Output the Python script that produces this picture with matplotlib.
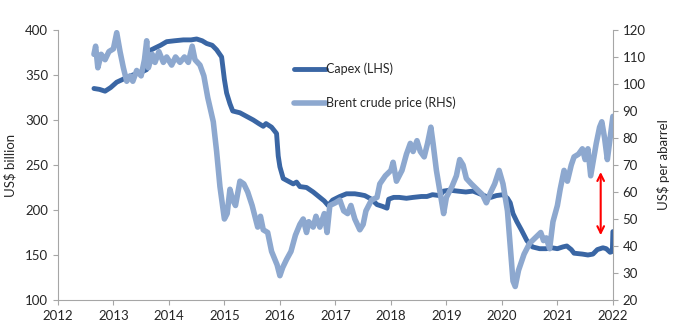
import matplotlib.pyplot as plt
import numpy as np

plt.rcParams['font.family'] = ['Lato', 'DejaVu Sans']

# Capex (LHS), US$ billion
capex_t = [2012.65, 2012.75, 2012.85, 2012.95, 2013.06, 2013.2, 2013.35, 2013.5, 2013.6,
           2013.62, 2013.75, 2013.85, 2013.96, 2014.1, 2014.26, 2014.4, 2014.5, 2014.6,
           2014.68, 2014.78, 2014.86, 2014.95, 2015.0, 2015.04, 2015.1, 2015.15, 2015.28,
           2015.4, 2015.52, 2015.62, 2015.7, 2015.75, 2015.85, 2015.94, 2015.97, 2016.0,
           2016.06, 2016.15, 2016.24, 2016.3, 2016.36, 2016.48, 2016.6, 2016.72, 2016.8,
           2016.87, 2016.95, 2017.08, 2017.2, 2017.35, 2017.45, 2017.53, 2017.65, 2017.75,
           2017.85, 2017.93, 2017.96, 2018.05, 2018.15, 2018.28, 2018.4, 2018.55, 2018.65,
           2018.75, 2018.88, 2018.95, 2019.06, 2019.2, 2019.35, 2019.48, 2019.6, 2019.72,
           2019.8, 2019.9, 2020.02, 2020.1, 2020.15, 2020.2, 2020.27, 2020.35, 2020.45,
           2020.55, 2020.68, 2020.8, 2020.9, 2021.0, 2021.1, 2021.17, 2021.25, 2021.3,
           2021.45, 2021.55, 2021.64, 2021.72, 2021.82, 2021.88, 2021.95, 2021.99, 2022.0]
capex_v = [335, 334, 332, 336, 342, 346, 350, 353, 356,
           376, 380, 383, 387, 388, 389, 389, 390, 388,
           385, 383, 378, 370, 345, 330, 318, 310, 308,
           304, 300, 296, 293, 296, 292, 285, 260, 248,
           235, 232, 229, 231, 226, 225, 220, 214, 210,
           205, 211, 215, 218, 218, 217, 216, 212, 206,
           204, 202, 212, 214, 214, 213, 214, 215, 215,
           217, 216, 221, 222, 221, 220, 221, 218, 215,
           214, 216, 217, 213, 208, 196, 187, 178, 166,
           159, 157, 157, 158, 157, 159, 160, 156, 152,
           151, 150, 151, 156, 158, 157, 153, 154, 176]

# Brent crude price (RHS), US$ per barrel
brent_t = [2012.65, 2012.68, 2012.72, 2012.78, 2012.85, 2012.92, 2013.0, 2013.06, 2013.12,
           2013.18, 2013.24, 2013.3, 2013.35, 2013.42, 2013.5, 2013.56, 2013.6, 2013.63,
           2013.7, 2013.75, 2013.82, 2013.9, 2013.96, 2014.05, 2014.12, 2014.2, 2014.28,
           2014.35, 2014.42, 2014.47, 2014.56, 2014.63, 2014.7, 2014.8, 2014.86, 2014.92,
           2015.0, 2015.05, 2015.1, 2015.15, 2015.2, 2015.28, 2015.35, 2015.42, 2015.5,
           2015.6, 2015.65, 2015.7, 2015.78, 2015.85, 2015.95, 2016.0, 2016.05, 2016.12,
           2016.2, 2016.28, 2016.36, 2016.42, 2016.48, 2016.52, 2016.6, 2016.65, 2016.72,
           2016.8, 2016.85, 2016.9, 2017.0, 2017.08, 2017.15, 2017.22, 2017.28, 2017.35,
           2017.44, 2017.5, 2017.55, 2017.65, 2017.75, 2017.8, 2017.9, 2018.0, 2018.04,
           2018.1, 2018.2, 2018.28, 2018.35, 2018.4, 2018.47, 2018.53, 2018.6, 2018.66,
           2018.72, 2018.76, 2018.82, 2018.9, 2018.95, 2019.0, 2019.1, 2019.18, 2019.24,
           2019.3, 2019.36, 2019.45, 2019.55, 2019.65, 2019.72, 2019.8, 2019.87, 2019.95,
           2020.02, 2020.1, 2020.15, 2020.2, 2020.24, 2020.3, 2020.4, 2020.5, 2020.6,
           2020.7, 2020.75, 2020.8, 2020.86, 2020.92, 2021.0, 2021.05, 2021.12, 2021.18,
           2021.25, 2021.3, 2021.38, 2021.45, 2021.5, 2021.55, 2021.6, 2021.65, 2021.7,
           2021.76, 2021.8, 2021.85, 2021.9, 2021.95, 2022.0]
brent_v = [111, 114, 106, 111, 109, 112, 113, 119, 112,
           106, 101, 103, 101, 105, 103, 109, 116, 106,
           111, 108, 112, 108, 110, 107, 110, 108, 110,
           108, 114, 109, 107, 103, 95, 86, 75, 62,
           50, 52, 61, 57, 55, 64, 63, 60, 55,
           47, 51, 46, 45, 38, 33, 29, 32, 35,
           38, 44, 48, 50, 45, 49, 47, 51, 47,
           52, 45, 55, 56, 57, 53, 52, 55, 50,
           46, 48, 53, 57, 58, 63, 66, 68, 71,
           64, 68, 74, 78, 75, 79, 75, 73, 78,
           84, 78, 68, 58, 52, 58, 62, 66, 72,
           70, 65, 63, 61, 59, 56, 60, 63, 68,
           63, 53, 40, 27, 25, 31, 37, 41, 43,
           45, 42, 43, 39, 49, 55, 61, 68, 64,
           70, 73, 74, 76, 72, 76, 66, 72, 78,
           84, 86, 80, 72, 80, 88]

years = list(range(2012, 2023))
gap_x = 2021.78
gap_lo, gap_hi = 44, 67.4

capex_color = '#3A66A4'
brent_color = '#8DA8CF'
spine_color = '#A6A6A6'
text_color = '#262626'

fig = plt.figure(figsize=(6.81, 3.35), dpi=100)
ax = fig.add_axes([0.085, 0.1045, 0.815, 0.806])
ax2 = ax.twinx()

l1, = ax.plot(capex_t, capex_v, color=capex_color, lw=3.5, solid_capstyle='round',
              solid_joinstyle='round', label='Capex (LHS)')
l2, = ax2.plot(brent_t, brent_v, color=brent_color, lw=4.0, solid_capstyle='round',
               solid_joinstyle='round', label='Brent crude price (RHS)')

ax.set_xlim(2012, 2022)
ax.set_ylim(100, 400)
ax2.set_ylim(20, 120)
ax.set_xticks(years)
ax.set_yticks(np.arange(100, 401, 50))
ax2.set_yticks(np.arange(20, 121, 10))

for a in (ax, ax2):
    a.spines['top'].set_visible(False)
    for s in ('left', 'right', 'bottom'):
        a.spines[s].set_color(spine_color)
    a.tick_params(colors=spine_color, labelcolor=text_color, labelsize=9.5, length=3.5,
                  direction='out')
ax.spines['right'].set_visible(False)
ax2.spines['left'].set_visible(False)
ax2.spines['bottom'].set_visible(False)

ax.set_ylabel('US$ billion', fontsize=9.5, color=text_color, labelpad=6)
ax2.set_ylabel('US$ per abarrel', fontsize=9.5, color=text_color, labelpad=8)

ax2.annotate('', xy=(gap_x, gap_hi), xytext=(gap_x, gap_lo),
             arrowprops=dict(arrowstyle='<->', color='red', lw=1.5,
                             mutation_scale=12, shrinkA=0, shrinkB=0))

ax2.legend(handles=[l1, l2], loc='upper left', bbox_to_anchor=(0.405, 0.92),
           frameon=False, fontsize=9, handlelength=2.6, handletextpad=0.0,
           labelspacing=1.7, labelcolor=text_color)

fig.savefig('out.png', dpi=100)
